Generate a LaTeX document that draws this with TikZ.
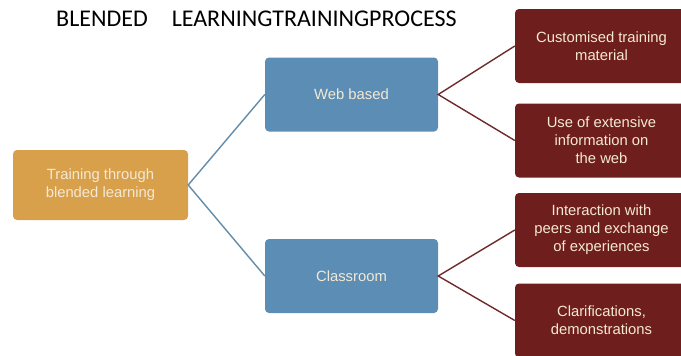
\documentclass[tikz,border=0pt]{standalone}
\usepackage{fontspec}
\setmainfont{Liberation Sans}
\newfontfamily\titlefont{Carlito}
\definecolor{boxorange}{RGB}{217,160,76}
\definecolor{boxblue}{RGB}{92,141,180}
\definecolor{boxred}{RGB}{111,30,30}
\definecolor{boxtext}{RGB}{243,233,212}
\definecolor{lineblue}{RGB}{100,140,168}
\definecolor{linered}{RGB}{112,42,42}
\tikzset{
	box/.style={rounded corners=4pt, text=boxtext, align=center, font=\fontsize{14.8}{18}\selectfont, inner sep=0pt},
	topbox/.style={box, fill=boxorange, minimum width=175pt, minimum height=70pt},
	midbox/.style={box, fill=boxblue, minimum width=173pt, minimum height=74pt},
	leafbox/.style={box, fill=boxred, minimum width=173pt, minimum height=74pt},
}
\begin{document}
\begin{tikzpicture}[x=1pt, y=-1pt]
	\clip (0,0) rectangle (681,356);
	\node[anchor=base west, inner sep=0pt, font=\titlefont\fontsize{24}{28}\selectfont] (0) at (56,27) {BLENDED\hspace{24pt}LEARNINGTRAININGPROCESS};
	\node[topbox] (1) at (100.5,185) {Training through\\blended learning};
	\node[midbox] (2) at (351.5,94.5) {Web based};
	\node[midbox] (3) at (351.5,276) {Classroom};
	\node[leafbox] (4) at (601.5,46) {Customised training\\material};
	\node[leafbox] (5) at (601.5,140.5) {Use of extensive\\information on\\the web};
	\node[leafbox] (6) at (601.5,230) {Interaction with\\peers and exchange\\of experiences};
	\node[leafbox] (7) at (601.5,320.5) {Clarifications,\\demonstrations};
	\draw[lineblue, line width=1.4pt] (2.west) -- (1.east) -- (3.west);
	\draw[linered, line width=1.4pt] (4.west) -- (2.east) -- (5.west);
	\draw[linered, line width=1.4pt] (6.west) -- (3.east) -- (7.west);
\end{tikzpicture}
\end{document}
